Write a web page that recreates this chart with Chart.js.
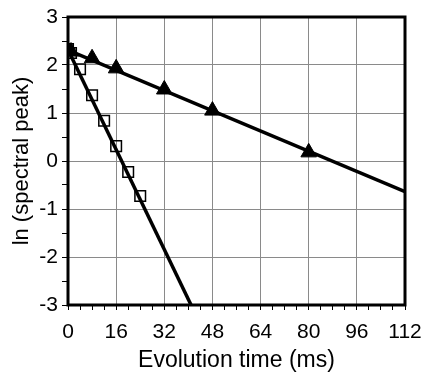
<!DOCTYPE html>
<html>
<head>
<meta charset="utf-8">
<script src="https://cdn.jsdelivr.net/npm/chart.js@4"></script>
<style>
  html, body { margin: 0; padding: 0; background: #fff; }
  #wrap { width: 428px; height: 374px; }
</style>
</head>
<body>
<div id="wrap"><canvas id="myChart" width="428" height="374"></canvas></div>
<script>
// measured points
var triX = [0, 1, 8, 16, 32, 48, 80];
var triY = [2.30, 2.28, 2.14, 1.93, 1.49, 1.05, 0.18];
var sqX = [0, 1, 4, 8, 12, 16, 20, 24];
var sqY = [2.33, 2.25, 1.91, 1.37, 0.84, 0.31, -0.23, -0.73];
// fitted lines (end points)
var triFitX = [0, 112];
var triFitY = [2.31, -0.64];
var sqFitX = [0, 40.9];
var sqFitY = [2.32, -3];

function pts(xs, ys) {
    return xs.map(function (x, i) { return {x: x, y: ys[i]}; });
}

var frame = {
    id: 'frame',
    afterDatasetsDraw: function (chart) {
        var a = chart.chartArea, c = chart.ctx;
        c.save();
        c.strokeStyle = '#000';
        c.lineWidth = 3;
        c.strokeRect(a.left, a.top, a.right - a.left, a.bottom - a.top);
        c.restore();
    }
};

var ctx = document.getElementById('myChart').getContext('2d');
var myChart = new Chart(ctx, {
    type: 'scatter',
    data: {
        datasets: [
            {
                data: pts(triFitX, triFitY),
                showLine: true,
                borderColor: '#000',
                borderWidth: 3.5,
                pointRadius: 0
            },
            {
                data: pts(sqFitX, sqFitY),
                showLine: true,
                borderColor: '#000',
                borderWidth: 3.5,
                pointRadius: 0
            },
            {
                data: pts(sqX, sqY),
                pointStyle: 'rect',
                pointRadius: 7.5,
                borderColor: '#000',
                backgroundColor: 'rgba(255,255,255,0)',
                borderWidth: 1.5
            },
            {
                data: pts(triX, triY),
                pointStyle: 'triangle',
                pointRadius: 9,
                borderColor: '#000',
                backgroundColor: '#000',
                borderWidth: 1
            }
        ]
    },
    options: {
        responsive: false,
        animation: false,
        layout: { autoPadding: false, padding: { left: 0, right: 23, top: 17, bottom: 0 } },
        scales: {
            x: {
                min: 0,
                max: 112,
                afterFit: function (s) { s.height = 69; s.paddingRight = 0; s.paddingLeft = 0; },
                border: { display: false },
                grid: {
                    color: function (c) { return c.tick && c.tick.value % 16 === 0 ? '#8a8a8a' : 'rgba(0,0,0,0)'; },
                    tickColor: '#000',
                    tickLength: 5,
                    lineWidth: 1
                },
                ticks: {
                    stepSize: 4,
                    autoSkip: false,
                    maxRotation: 0,
                    padding: 10,
                    color: '#000',
                    font: { family: 'Liberation Sans, Arial, sans-serif', size: 21 },
                    callback: function (v) { return v % 16 === 0 ? String(v) : ''; }
                },
                title: {
                    display: true,
                    text: 'Evolution time (ms)',
                    color: '#000',
                    padding: { top: 0, bottom: 0 },
                    font: { family: 'Liberation Sans, Arial, sans-serif', size: 23 }
                }
            },
            y: {
                min: -3,
                max: 3,
                afterFit: function (s) { s.width = 68; s.paddingTop = 0; s.paddingBottom = 0; },
                border: { display: false },
                grid: {
                    color: function (c) { return c.tick && Number.isInteger(c.tick.value) ? '#8a8a8a' : 'rgba(0,0,0,0)'; },
                    tickColor: '#000',
                    tickLength: 6,
                    lineWidth: 1
                },
                ticks: {
                    stepSize: 0.5,
                    autoSkip: false,
                    padding: 4,
                    color: '#000',
                    font: { family: 'Liberation Sans, Arial, sans-serif', size: 21 },
                    callback: function (v) { return Number.isInteger(v) ? String(v) : ''; }
                },
                title: {
                    display: true,
                    text: 'ln (spectral peak)',
                    color: '#000',
                    padding: { top: 9, bottom: 0 },
                    font: { family: 'Liberation Sans, Arial, sans-serif', size: 22 }
                }
            }
        },
        plugins: {
            legend: { display: false },
            tooltip: { enabled: false }
        }
    },
    plugins: [frame]
});
</script>
</body>
</html>
